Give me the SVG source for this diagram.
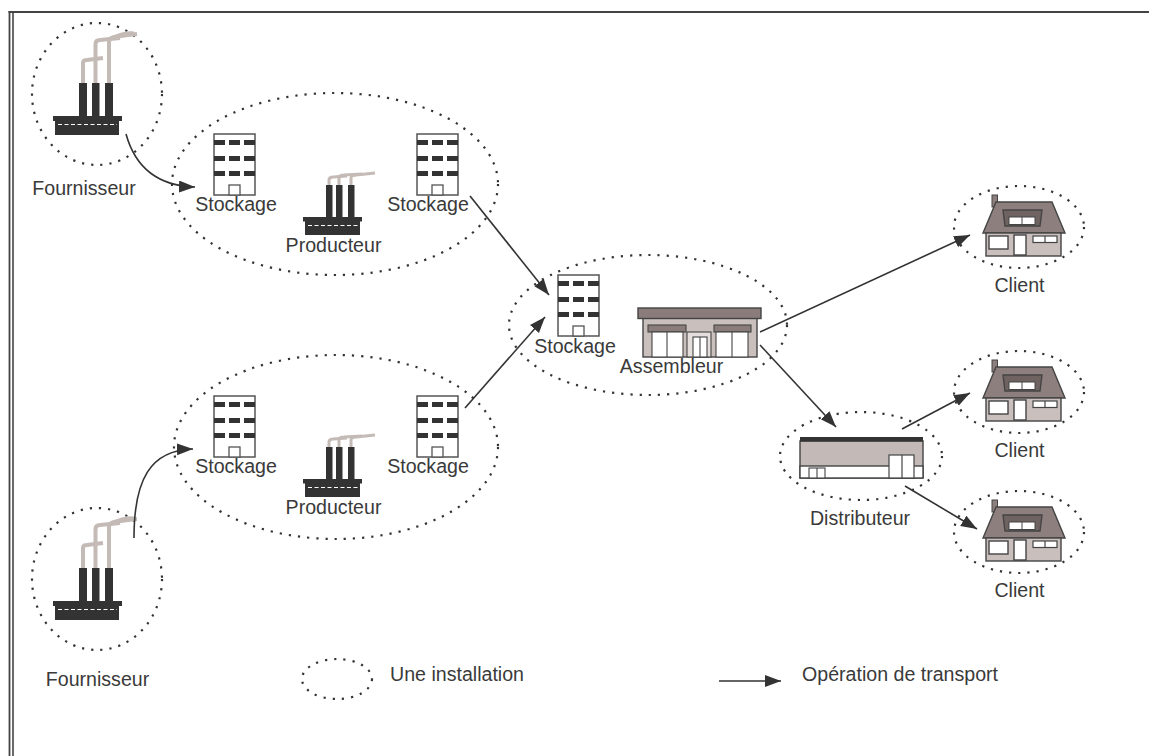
<svg xmlns="http://www.w3.org/2000/svg" width="1149" height="756" viewBox="0 0 1149 756">
<style>
.inst{fill:none;stroke:#333;stroke-width:2.2;stroke-dasharray:2.2 7}
.lbl{font-family:"Liberation Sans",Arial,sans-serif;font-size:19.6px;fill:#3a3a3a;text-anchor:middle}
.lg{font-family:"Liberation Sans",Arial,sans-serif;font-size:19.6px;fill:#3a3a3a}
.cn{fill:none;stroke:#333;stroke-width:1.6}
.dk{fill:#333}
.smoke{fill:none;stroke:#c4bab6;stroke-width:4;stroke-linejoin:round}
.smoke2{fill:none;stroke:#c4bab6;stroke-width:3;stroke-linejoin:round}
.ol{stroke:#444;stroke-width:1.4}
</style>
<defs>
<marker id="ah" markerUnits="userSpaceOnUse" markerWidth="18" markerHeight="13" refX="16" refY="6" orient="auto">
<path d="M0,0 L16,6 L0,12 Z" fill="#333"/>
</marker>
<g id="bld">
<rect x="0" y="0" width="41" height="61" fill="#fff" stroke="#555" stroke-width="1.5"/>
<rect class="dk" x="0" y="6" width="11" height="5"/><rect class="dk" x="15" y="6" width="11" height="5"/><rect class="dk" x="30" y="6" width="11" height="5"/>
<rect class="dk" x="0" y="22" width="11" height="5"/><rect class="dk" x="15" y="22" width="11" height="5"/><rect class="dk" x="30" y="22" width="11" height="5"/>
<rect class="dk" x="0" y="37" width="11" height="5"/><rect class="dk" x="15" y="37" width="11" height="5"/><rect class="dk" x="30" y="37" width="11" height="5"/>
<rect x="15" y="51" width="11" height="10" fill="#fff" stroke="#555" stroke-width="1.3"/>
</g>
<g id="bigFactory">
<path class="smoke" d="M83,84 V63 Q83,60 87,60 L103,58"/>
<path class="smoke" d="M95.5,84 V44 Q95.5,40 100,40 L120,38"/>
<path class="smoke" d="M109,84 V42 Q109,38 114,37 L128,35 L137,34"/>
<path class="smoke2" d="M112,38 Q124,32 134,33"/>
<rect class="dk" x="79" y="83" width="8" height="34"/>
<rect class="dk" x="92" y="83" width="7.5" height="34"/>
<rect class="dk" x="105" y="83" width="8" height="34"/>
<rect class="dk" x="53" y="116" width="69" height="5"/>
<rect class="dk" x="55" y="120" width="64" height="15"/>
<line x1="58" y1="124.5" x2="117" y2="124.5" stroke="#fff" stroke-width="1.2" stroke-dasharray="4 2.5"/>
</g>
<g id="smallFactory">
<path class="smoke2" d="M329,186 V180 Q329,177 333,177 L347,176"/>
<path class="smoke2" d="M339,186 V178 Q339,175 344,175 L362,174"/>
<path class="smoke2" d="M351,186 V178 Q351,175 356,175 L375,173"/>
<rect class="dk" x="326" y="185" width="6.5" height="33"/>
<rect class="dk" x="336" y="185" width="6.5" height="33"/>
<rect class="dk" x="348" y="185" width="6.5" height="33"/>
<rect class="dk" x="303" y="217" width="59" height="4.5"/>
<rect class="dk" x="305" y="221" width="55" height="14"/>
<line x1="308" y1="225.5" x2="358" y2="225.5" stroke="#fff" stroke-width="1.1" stroke-dasharray="4 2.5"/>
</g>
<g id="house">
<rect x="992" y="195" width="5.5" height="12" fill="#8d7f7d" stroke="#444" stroke-width="1"/>
<polygon points="996,202 1052,202 1065,233 983,233" fill="#8d7f7d" class="ol"/>
<rect x="986" y="233" width="75" height="23" fill="#c9bfbc" class="ol"/>
<polygon points="1003,210 1042,210 1040,226 1005,226" fill="#6f6361" class="ol"/>
<rect x="1009" y="217" width="26" height="7.5" fill="#fff" stroke="#444" stroke-width="1"/>
<line x1="1022" y1="217" x2="1022" y2="224.5" stroke="#444" stroke-width="1"/>
<rect x="989" y="236" width="19" height="13" fill="#fff" class="ol"/>
<rect x="1014" y="235" width="12" height="20" fill="#fff" class="ol"/>
<rect x="1033" y="236" width="24" height="6.5" fill="#fff" stroke="#444" stroke-width="1.2"/>
<line x1="1045" y1="236" x2="1045" y2="242.5" stroke="#444" stroke-width="1.2"/>
</g>
</defs>
<rect x="0" y="0" width="1149" height="756" fill="#fff"/>
<g id="frame" fill="none" stroke="#444">
<line x1="8.5" y1="12" x2="1149" y2="12" stroke-width="2"/>
<line x1="9.5" y1="11" x2="9.5" y2="756" stroke-width="1.8"/>
<line x1="13" y1="13" x2="13" y2="756" stroke-width="1.6"/>
</g>

<g id="fournisseur1">
<ellipse class="inst" cx="97" cy="94" rx="65" ry="71"/>
<use href="#bigFactory"/>
<text class="lbl" x="84" y="195">Fournisseur</text>
</g>

<g id="producteur1">
<ellipse class="inst" cx="335" cy="184" rx="163" ry="91"/>
<use href="#bld" x="214" y="134"/>
<text class="lbl" x="236" y="211">Stockage</text>
<use href="#smallFactory"/>
<text class="lbl" x="333.5" y="252">Producteur</text>
<use href="#bld" x="417" y="134"/>
<text class="lbl" x="428" y="211">Stockage</text>
</g>

<g id="producteur2">
<ellipse class="inst" cx="336" cy="447" rx="162" ry="92"/>
<use href="#bld" x="214" y="396"/>
<text class="lbl" x="236" y="473">Stockage</text>
<use href="#smallFactory" y="262"/>
<text class="lbl" x="333.5" y="514">Producteur</text>
<use href="#bld" x="417" y="396"/>
<text class="lbl" x="428" y="473">Stockage</text>
</g>

<g id="fournisseur2">
<ellipse class="inst" cx="97" cy="579" rx="65" ry="71"/>
<use href="#bigFactory" y="485"/>
<text class="lbl" x="97.5" y="686">Fournisseur</text>
</g>

<g id="assembleur">
<ellipse class="inst" cx="648" cy="325" rx="139" ry="70"/>
<use href="#bld" x="558" y="275"/>
<text class="lbl" x="575" y="353">Stockage</text>
<rect x="643" y="318" width="114" height="39" fill="#c9c0bd" class="ol"/>
<rect x="638" y="308" width="123" height="10.5" fill="#8a7c7a" class="ol"/>
<rect x="648" y="325" width="38" height="7" fill="#8a7c7a" stroke="#444" stroke-width="1.1"/>
<rect x="714" y="325" width="37" height="7" fill="#8a7c7a" stroke="#444" stroke-width="1.1"/>
<rect x="652" y="332" width="31" height="25" fill="#fff" stroke="#444" stroke-width="1.1"/>
<line x1="667" y1="332" x2="667" y2="357" stroke="#444" stroke-width="1.1"/>
<rect x="687" y="332" width="24" height="25" fill="#e4dedc" stroke="#444" stroke-width="1.1"/>
<rect x="693" y="337" width="14" height="20" fill="#fff" stroke="#444" stroke-width="1.1"/>
<line x1="700" y1="337" x2="700" y2="357" stroke="#444" stroke-width="1.1"/>
<rect x="716" y="332" width="32" height="25" fill="#fff" stroke="#444" stroke-width="1.1"/>
<line x1="732" y1="332" x2="732" y2="357" stroke="#444" stroke-width="1.1"/>
<text class="lbl" x="671.5" y="373">Assembleur</text>
</g>

<g id="distributeur">
<ellipse class="inst" cx="861" cy="456" rx="81" ry="44"/>
<rect x="800" y="441" width="123" height="37" fill="#c3b9b6" class="ol"/>
<rect x="800" y="437" width="123" height="4.5" fill="#333"/>
<rect x="800" y="466" width="123" height="12" fill="#fff" class="ol"/>
<rect x="809" y="468" width="16" height="10" fill="#fff" stroke="#444" stroke-width="1.1"/>
<line x1="817" y1="468" x2="817" y2="478" stroke="#444" stroke-width="1.1"/>
<rect x="889" y="455" width="25" height="23" fill="#fff" stroke="#444" stroke-width="1.2"/>
<line x1="902" y1="455" x2="902" y2="478" stroke="#444" stroke-width="1.2"/>
<text class="lbl" x="860" y="525">Distributeur</text>
</g>

<g id="client1">
<ellipse class="inst" cx="1019" cy="227" rx="65" ry="41"/>
<use href="#house"/>
<text class="lbl" x="1019.5" y="292">Client</text>
</g>
<g id="client2">
<ellipse class="inst" cx="1019" cy="392" rx="65" ry="41"/>
<use href="#house" y="165"/>
<text class="lbl" x="1019.5" y="457">Client</text>
</g>
<g id="client3">
<ellipse class="inst" cx="1019" cy="532" rx="65" ry="41"/>
<use href="#house" y="305"/>
<text class="lbl" x="1019.5" y="597">Client</text>
</g>

<g id="connectors">
<path class="cn" d="M126,134 C136,170 160,186 195,187" marker-end="url(#ah)"/>
<path class="cn" d="M134,538 C134,480 150,450 193,449" marker-end="url(#ah)"/>
<path class="cn" d="M470,196 L549,295" marker-end="url(#ah)"/>
<path class="cn" d="M465,408 L545,317" marker-end="url(#ah)"/>
<path class="cn" d="M760,332 L970,235" marker-end="url(#ah)"/>
<path class="cn" d="M760,345 L836,427" marker-end="url(#ah)"/>
<path class="cn" d="M902,429 L970,393" marker-end="url(#ah)"/>
<path class="cn" d="M905,486 L977,529" marker-end="url(#ah)"/>
</g>

<g id="legend">
<ellipse class="inst" cx="337" cy="679" rx="35" ry="20"/>
<text class="lg" x="390" y="681">Une installation</text>
<path class="cn" d="M719,681 L781,681" marker-end="url(#ah)"/>
<text class="lg" x="802" y="681">Opération de transport</text>
</g>
</svg>
